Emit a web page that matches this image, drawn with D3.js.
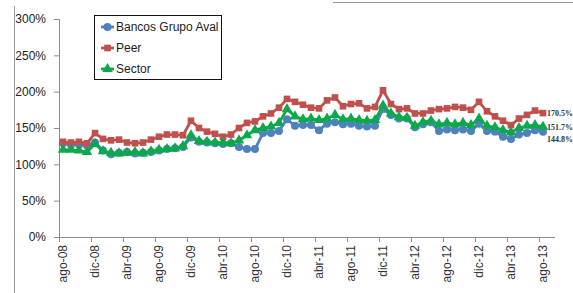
<!DOCTYPE html>
<html><head><meta charset="utf-8">
<script src="https://cdn.jsdelivr.net/npm/d3@7/dist/d3.min.js"></script>
<style>
html,body{margin:0;padding:0;background:#fff;}
svg{display:block;font-family:"Liberation Sans",Arial,sans-serif;}
</style></head>
<body><svg id="c" width="573" height="293"></svg>
<script>
const months = ["ene","feb","mar","abr","may","jun","jul","ago","sep","oct","nov","dic"];
// categories: ago-08 .. sep-13 (last category has no data)
const categories = [];
for (let yr = 2008, m = 7; categories.length < 62; ) {
  categories.push(months[m] + "-" + String(yr).slice(2));
  m++; if (m === 12) { m = 0; yr++; }
}
const seriesNames = ["Bancos Grupo Aval", "Peer", "Sector"];
const bancos = [129,127,127,126,130,119,114,116,117,115,116,117,119,121,122,124,137,131,130,129,128,129,124,121,121,143,143,146,162,153,154,154,147,156,158,155,156,153,152,153,176,168,163,163,151,155,158,146,148,147,148,146,156,146,145,138,135,141,143,147,144.8];
const peer   = [131,130,131,129,143,135,133,134,130,129,130,134,138,141,141,140,160,150,145,142,138,141,150,157,159,166,170,178,190,186,182,178,177,188,192,180,183,184,177,179,202,183,176,177,170,170,174,176,177,179,178,175,186,173,166,160,154,163,168,174,170.5];
const sector = [120,120,119,117,128,118,116,115,116,117,115,118,120,121,122,125,140,132,131,130,130,129,133,140,147,150,152,157,176,166,162,163,161,163,168,162,163,161,160,161,181,170,165,164,153,158,160,155,157,155,157,154,163,153,151,147,144,150,153,154,151.7];
const endLabels = ["144.8%", "170.5%", "151.7%"];
const yTicks = [0, 50, 100, 150, 200, 250, 300];

const colors = ["#4F81BD", "#C0504D", "#0BA94B"];
const svg = d3.select("#c");
const pLeft = 59, pRight = 555, pTop = 19, pBottom = 237;

const x = d3.scaleBand().domain(categories).range([pLeft, pRight]).paddingInner(0).paddingOuter(0);
const y = d3.scaleLinear().domain([0, 300]).range([pBottom, pTop]);
const cx = (i) => x(categories[i]) + x.bandwidth() / 2;

// frame lines
svg.append("line").attr("x1", 14.5).attr("x2", 14.5).attr("y1", 6).attr("y2", 293).attr("stroke", "#9a9a9a").attr("stroke-width", 1);
svg.append("line").attr("x1", 333).attr("x2", 573).attr("y1", 2.5).attr("y2", 2.5).attr("stroke", "#9a9a9a").attr("stroke-width", 1);

// y axis
const yAxis = svg.append("g").attr("transform", `translate(${pLeft},0)`)
  .call(d3.axisLeft(y).tickValues(yTicks).tickFormat(d => d + "%").tickSize(5).tickPadding(8));
yAxis.select(".domain").attr("stroke", "#8c8c8c");
yAxis.selectAll(".tick line").attr("stroke", "#8c8c8c");
yAxis.selectAll("text").attr("font-size", 12).attr("fill", "#222").attr("font-family", "Liberation Sans, Arial, sans-serif");

// x axis line & ticks
svg.append("line").attr("x1", pLeft).attr("x2", pRight).attr("y1", pBottom + 0.5).attr("y2", pBottom + 0.5).attr("stroke", "#8c8c8c");
const tickIdx = d3.range(0, categories.length, 4);
svg.selectAll(".xt").data(tickIdx).enter().append("line")
  .attr("x1", i => x(categories[i]) + 0.5).attr("x2", i => x(categories[i]) + 0.5)
  .attr("y1", pBottom).attr("y2", pBottom + 5).attr("stroke", "#8c8c8c");
svg.selectAll(".xl").data(tickIdx.filter(i => i <= 60)).enter().append("text")
  .attr("transform", i => `translate(${cx(i)},${pBottom + 8}) rotate(-90)`)
  .attr("text-anchor", "end").attr("dy", "0.35em")
  .attr("font-size", 12).attr("fill", "#333")
  .text(i => categories[i]);

// series
const data = [bancos, peer, sector];
const line = d3.line().x((d, i) => cx(i)).y(d => y(d));
const sym = [d3.symbolCircle, d3.symbolSquare, d3.symbolTriangle];
const symSize = [50, 44, 48];
data.forEach((vals, s) => {
  const g = svg.append("g");
  g.append("path").datum(vals).attr("d", line).attr("fill", "none")
    .attr("stroke", colors[s]).attr("stroke-width", 2.8).attr("stroke-linejoin", "round");
  g.selectAll("path.m").data(vals).enter().append("path").attr("class", "m")
    .attr("transform", (d, i) => `translate(${cx(i)},${y(d)})`)
    .attr("d", d3.symbol().type(sym[s]).size(symSize[s]))
    .attr("fill", colors[s]);
});

// end labels
const labelDy = [7, 0, 0];
data.forEach((vals, s) => {
  const last = vals.length - 1;
  svg.append("text").attr("x", cx(last) + 4).attr("y", y(vals[last]) + labelDy[s])
    .attr("dy", "0.35em").attr("font-size", 8).attr("font-weight", "bold")
    .attr("font-family", "Liberation Serif, Times New Roman, serif").attr("fill", "#333")
    .text(endLabels[s]);
});

// legend
const lg = svg.append("g");
lg.append("rect").attr("x", 94.5).attr("y", 15.5).attr("width", 127).attr("height", 64)
  .attr("fill", "#fff").attr("stroke", "#111").attr("stroke-width", 1);
seriesNames.forEach((n, s) => {
  const ly = 27 + s * 21;
  lg.append("line").attr("x1", 101).attr("x2", 114).attr("y1", ly).attr("y2", ly)
    .attr("stroke", colors[s]).attr("stroke-width", 2.8);
  lg.append("path").attr("transform", `translate(107.5,${ly})`)
    .attr("d", d3.symbol().type(sym[s]).size(symSize[s])).attr("fill", colors[s]);
  lg.append("text").attr("x", 116).attr("y", ly).attr("dy", "0.35em")
    .attr("font-size", 12).attr("fill", "#222").text(n);
});
</script></body></html>
